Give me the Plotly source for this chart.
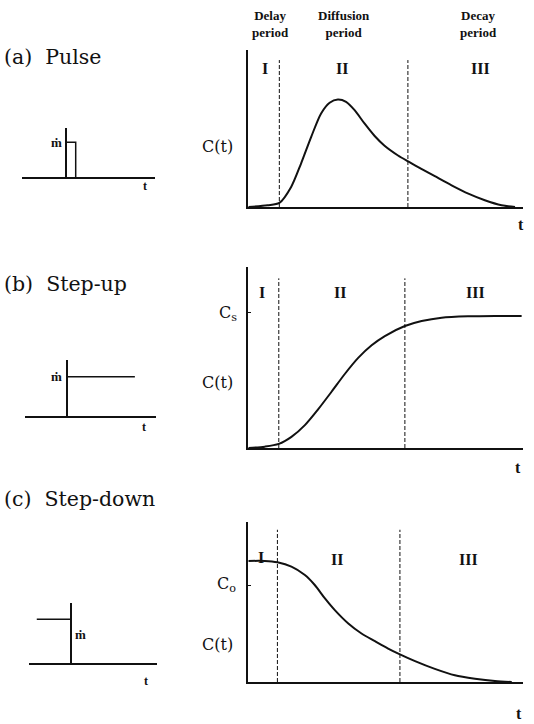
import plotly.graph_objects as go

W, H = 534, 724

# ---------------- data ----------------
# (a) Pulse response C(t)
pulse_t = [0, 0.70, 1.13, 1.56, 1.92, 2.29, 2.65, 2.96, 3.26, 3.56, 3.87, 4.23, 4.60,
           4.96, 5.45, 5.82, 6.30, 6.79, 7.40, 8.01, 8.61, 9.22, 9.71]
pulse_c = [0.0, 0.011, 0.026, 0.128, 0.277, 0.447, 0.596, 0.664, 0.685, 0.670, 0.617,
           0.532, 0.452, 0.390, 0.328, 0.290, 0.243, 0.196, 0.138, 0.085, 0.043, 0.011, 0.0]
# (b) Step-up response C(t), Cs = 1
stepup_t = [0, 0.60, 1.11, 1.57, 2.06, 2.54, 3.03, 3.52, 4.00, 4.49, 4.97, 5.70, 6.31,
            7.04, 8.01, 8.98, 9.95]
stepup_c = [0.0, 0.010, 0.030, 0.082, 0.169, 0.285, 0.415, 0.548, 0.665, 0.758, 0.826,
            0.900, 0.937, 0.962, 0.972, 0.975, 0.975]
# (c) Step-down response C(t), Co = 1
stepdown_t = [0, 0.60, 1.06, 1.57, 2.06, 2.42, 2.79, 3.15, 3.64, 4.12, 4.61, 5.09, 5.52,
              6.07, 6.79, 7.52, 8.25, 8.98, 9.59]
stepdown_c = [1.248, 1.248, 1.234, 1.190, 1.103, 1.0, 0.862, 0.741, 0.603, 0.5, 0.421,
              0.345, 0.285, 0.215, 0.135, 0.069, 0.034, 0.010, 0.0]

# period boundaries (I|II, II|III)
bounds_a = [1.13, 5.81]
bounds_b = [1.11, 5.70]
bounds_c = [1.06, 5.52]

# input mass flow signals m(t)
pulse_in_t = [0, 0, 1, 1]
pulse_in_m = [0, 1, 1, 0]
stepup_in_t = [0, 7]
stepup_in_m = [1, 1]
stepdown_in_t = [-3.5, 0]
stepdown_in_m = [1, 1]

period_numerals = ["I", "II", "III"]
period_names = ["Delay<br>period", "Diffusion<br>period", "Decay<br>period"]
panel_titles = ["(a)  Pulse", "(b)  Step-up", "(c)  Step-down"]

# ---------------- helpers ----------------
def fx(px):
    return px / W

def fy(py):
    return 1 - py / H

BLACK = "#111111"
fig = go.Figure()

main = [
    dict(t=pulse_t, c=pulse_c, b=bounds_a, top=50, base=207, ymax=1.0, dash_top=0.936),
    dict(t=stepup_t, c=stepup_c, b=bounds_b, top=266.7, base=448, ymax=1.338, dash_top=1.252),
    dict(t=stepdown_t, c=stepdown_c, b=bounds_c, top=521.7, base=682, ymax=1.653, dash_top=1.57),
]
small = [
    dict(t=pulse_in_t, m=pulse_in_m, x0=22, x1=155, xr=[-4.54, 9.18], top=128.3, unit=36, ymax=1.389),
    dict(t=stepup_in_t, m=stepup_in_m, x0=25, x1=156.3, xr=[-4.33, 9.21], top=360, unit=40.5, ymax=1.412),
    dict(t=stepdown_in_t, m=stepdown_in_m, x0=29.3, x1=156.7, xr=[-4.27, 8.87], top=603.3, unit=44.7, ymax=1.358),
]

layout_axes = {}
for i, p in enumerate(main):
    n = i + 1
    xa = "x" if n == 1 else f"x{n}"
    ya = "y" if n == 1 else f"y{n}"
    fig.add_trace(go.Scatter(x=p["t"], y=p["c"], mode="lines", xaxis=xa, yaxis=ya,
                             line=dict(color=BLACK, width=2, shape="spline", smoothing=0.8),
                             showlegend=False, hoverinfo="skip"))
    for bx in p["b"]:
        fig.add_trace(go.Scatter(x=[bx, bx], y=[0, p["dash_top"]], mode="lines",
                                 xaxis=xa, yaxis=ya,
                                 line=dict(color=BLACK, width=1, dash="4px,2px"),
                                 showlegend=False, hoverinfo="skip"))
    layout_axes[f"xaxis{'' if n == 1 else n}"] = dict(
        domain=[fx(248.3), fx(523)], range=[0, 10], anchor=ya, showline=True,
        linecolor=BLACK, linewidth=1.6, showgrid=False, zeroline=False,
        showticklabels=False, ticks="")
    ydict = dict(domain=[fy(p["base"]), fy(p["top"])], range=[0, p["ymax"]], anchor=xa,
                 showline=True, linecolor=BLACK, linewidth=1.6, showgrid=False,
                 zeroline=False, showticklabels=False, ticks="")
    if n >= 2:
        ydict.update(tickvals=[1], ticks="inside", ticklen=3, tickwidth=1, tickcolor=BLACK)
    layout_axes[f"yaxis{'' if n == 1 else n}"] = ydict

for i, s in enumerate(small):
    n = i + 4
    xa, ya = f"x{n}", f"y{n}"
    fig.add_trace(go.Scatter(x=s["t"], y=s["m"], mode="lines", xaxis=xa, yaxis=ya,
                             line=dict(color=BLACK, width=1.5),
                             showlegend=False, hoverinfo="skip"))
    base_px = s["top"] + s["ymax"] * s["unit"]
    bottom_px = base_px + 0.02 * s["unit"]
    layout_axes[f"xaxis{n}"] = dict(
        domain=[fx(s["x0"]), fx(s["x1"])], range=s["xr"], anchor=ya, showline=False,
        showgrid=False, zeroline=True, zerolinecolor=BLACK, zerolinewidth=1.5,
        showticklabels=False, ticks="")
    layout_axes[f"yaxis{n}"] = dict(
        domain=[fy(bottom_px), fy(s["top"])], range=[-0.02, s["ymax"]], anchor=xa,
        showline=False, showgrid=False, zeroline=True, zerolinecolor=BLACK,
        zerolinewidth=1.5, showticklabels=False, ticks="")

ann = []

def add_text(text, px, py, size, family="DejaVu Serif", bold=False, xanchor="center"):
    ann.append(dict(text=f"<b>{text}</b>" if bold else text, x=fx(px), y=fy(py),
                    xref="paper", yref="paper", showarrow=False, xanchor=xanchor,
                    yanchor="middle", font=dict(family=family, size=size, color=BLACK)))

# panel titles
for title, py in zip(panel_titles, [57.3, 284, 499]):
    add_text(title, 1.5, py, 20.5, xanchor="left")

# period names on top
for name, px in zip(period_names, [270, 344, 478]):
    add_text(name, px, 24, 13, family="Liberation Serif", bold=True)

# roman numerals
num_pos = [
    [(265, 68.5), (341.7, 68.5), (480, 68.5)],
    [(261.7, 292), (340, 292), (475, 292)],
    [(261, 557), (336.7, 559), (468.3, 559)],
]
for row in num_pos:
    for txt, (px, py) in zip(period_numerals, row):
        add_text(txt, px, py, 16, family="Liberation Serif", bold=True)

# C(t) labels
for py in [146, 382, 644]:
    add_text("C(t)", 217, py, 16)
add_text("C<sub>s</sub>", 228, 314, 16)
add_text("C<sub>o</sub>", 226, 584, 16)

# time labels (main)
for px, py in [(521, 224), (518, 467), (519, 713)]:
    add_text("t", px, py, 16, family="Liberation Serif", bold=True)
# time labels (small)
for px, py in [(145, 186), (144, 427), (146, 681)]:
    add_text("t", px, py, 12, family="Liberation Serif", bold=True)
# mass flow labels
for px, py in [(56, 143), (56, 376), (80, 634)]:
    add_text("ṁ", px, py, 13, family="Liberation Serif", bold=True)

fig.update_layout(
    width=W, height=H, margin=dict(l=0, r=0, t=0, b=0),
    paper_bgcolor="white", plot_bgcolor="rgba(0,0,0,0)",
    showlegend=False, annotations=ann, **layout_axes)

fig.write_html("out.html", config={"displayModeBar": False})
